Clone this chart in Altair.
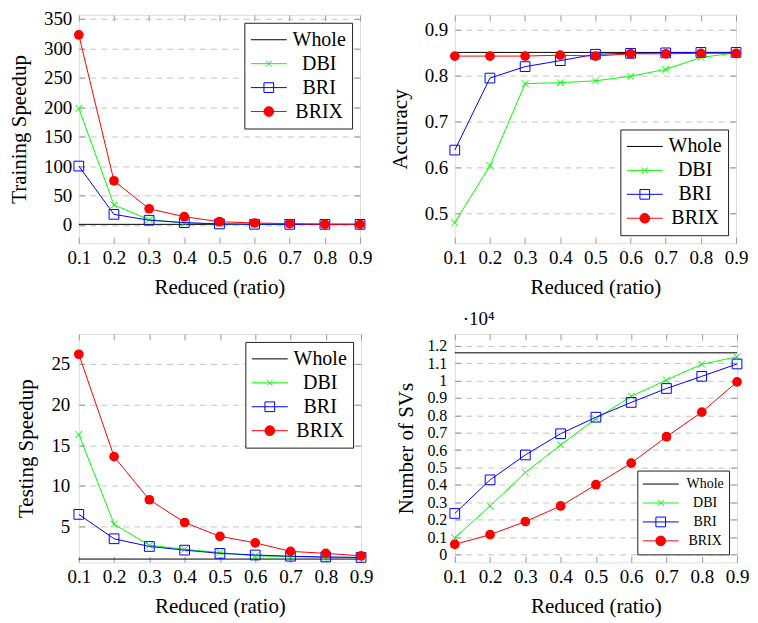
import altair as alt
import pandas as pd

FONT = "Liberation Serif, DejaVu Serif, serif"

# ---------------- data ----------------
ratios = [0.1, 0.2, 0.3, 0.4, 0.5, 0.6, 0.7, 0.8, 0.9]
series_names = ["Whole", "DBI", "BRI", "BRIX"]
series_colors = ["#000000", "#00ff00", "#0000ff", "#ff0000"]

# Training speedup
train_whole = 1.0
train_dbi = [198, 34, 9, 3.3, 1.7, 1.2, 1.1, 1.0, 1.0]
train_bri = [100, 18, 8, 4, 1.7, 1.1, 1.0, 1.0, 1.0]
train_brix = [323, 75, 27.5, 14, 5.5, 3.3, 2.2, 1.2, 1.0]

# Accuracy
acc_whole = 0.851
acc_dbi = [0.480, 0.604, 0.783, 0.785, 0.789, 0.799, 0.814, 0.840, 0.850]
acc_bri = [0.638, 0.795, 0.820, 0.833, 0.847, 0.849, 0.850, 0.851, 0.851]
acc_brix = [0.843, 0.843, 0.843, 0.845, 0.843, 0.848, 0.848, 0.849, 0.849]

# Testing speedup
test_whole = 1.0
test_dbi = [16.35, 5.3, 2.7, 2.2, 1.8, 1.4, 1.3, 1.2, 1.2]
test_bri = [6.5, 3.5, 2.55, 2.1, 1.7, 1.5, 1.35, 1.26, 1.2]
test_brix = [26.2, 13.6, 8.3, 5.5, 3.8, 3.0, 1.95, 1.7, 1.4]

# Number of support vectors
sv_whole = 11590
sv_dbi = [960, 2790, 4710, 6300, 7800, 9090, 10030, 10930, 11360]
sv_bri = [2360, 4290, 5720, 6940, 7890, 8740, 9540, 10240, 10950]
sv_brix = [580, 1140, 1890, 2790, 4010, 5250, 6770, 8180, 9920]
sv_unit = 10000

# axis ticks / titles
x_title = "Reduced (ratio)"
train_ticks = [0, 50, 100, 150, 200, 250, 300, 350]
acc_ticks = [0.5, 0.6, 0.7, 0.8, 0.9]
test_ticks = [5, 10, 15, 20, 25]
sv_ticks = [0, 0.1, 0.2, 0.3, 0.4, 0.5, 0.6, 0.7, 0.8, 0.9, 1.0, 1.1, 1.2]


def long_df(dbi, bri, brix, unit=1.0):
    rows = []
    for name, vals in (("DBI", dbi), ("BRI", bri), ("BRIX", brix)):
        for r, v in zip(ratios, vals):
            rows.append({"ratio": r, "value": v / unit, "series": name})
    return pd.DataFrame(rows)


# legend symbols: line + marker (custom paths)
legend_shapes = [
    "M-1,0L1,0",
    "M-1,0L1,0M-0.16,-0.16L0.16,0.16M-0.16,0.16L0.16,-0.16",
    "M-1,0L1,0M-0.27,-0.27L0.27,-0.27L0.27,0.27L-0.27,0.27Z",
    "M-1,0L1,0M-0.27,0A0.27,0.27,0,1,1,0.27,0A0.27,0.27,0,1,1,-0.27,0Z",
]
legend_fills = ["transparent", "transparent", "transparent", "#ff0000"]

CROSS = "M-1,-1L1,1M-1,1L1,-1"
INWARD = {"expr": "-6"}
TICK_COLOR = "#999999"


def make_legend(orient, font_size, clip_h, pad, label_offset):
    return alt.Legend(
        title=None, orient=orient, offset=8, padding=pad,
        strokeColor="#222222", fillColor="white", cornerRadius=0,
        symbolSize=1296, symbolStrokeWidth=1, symbolOpacity=1,
        clipHeight=clip_h, rowPadding=2,
        labelFont=FONT, labelFontSize=font_size, labelColor="black",
        labelAlign="center", labelOffset=label_offset,
    )


def panel(df, whole, y_title, y_domain, y_ticks, y_format, legend, w, h,
          title_pad, label_pad, y_label_size=19, title=None):
    xs = alt.Scale(domain=[0.1, 0.9], nice=False, zero=False)
    ys = alt.Scale(domain=y_domain, nice=False, zero=False)

    left_axis = alt.Axis(
        orient="left", values=y_ticks, format=y_format, grid=True,
        gridDash=[6, 5], gridColor="#c4c4c4", gridWidth=1, domain=False,
        tickSize=INWARD, tickColor=TICK_COLOR, labelPadding=label_pad,
        labelFont=FONT, labelFontSize=y_label_size, labelColor="black",
        labelOverlap=False, labelFlush=False,
        title=y_title, titleFont=FONT, titleFontSize=21,
        titleFontWeight="normal", titleColor="black", titlePadding=title_pad,
    )
    right_axis = alt.Axis(
        orient="right", values=y_ticks, labels=False, domain=False,
        grid=False, tickSize=INWARD, tickColor=TICK_COLOR, title=None,
    )
    bottom_axis = alt.Axis(
        orient="bottom", values=ratios, format=".1f", grid=False, domain=False,
        tickSize=INWARD, tickColor=TICK_COLOR, labelPadding=11,
        labelFont=FONT, labelFontSize=19, labelColor="black",
        labelFlush=False, labelOverlap=False,
        title=x_title, titleFont=FONT, titleFontSize=21,
        titleFontWeight="normal", titleColor="black", titlePadding=9,
    )
    top_axis = alt.Axis(
        orient="top", values=ratios, labels=False, domain=False, grid=False,
        tickSize=INWARD, tickColor=TICK_COLOR, title=None,
    )

    rule = alt.Chart(pd.DataFrame({"value": [whole]})).mark_rule(
        color="black", strokeWidth=1
    ).encode(y=alt.Y("value:Q", scale=ys, axis=left_axis))

    layers = [rule]
    styles = {
        "DBI": dict(shape=CROSS, size=45, filled=False, strokeWidth=1),
        "BRI": dict(shape="square", size=95, filled=False, strokeWidth=1),
        "BRIX": dict(shape="circle", size=95, filled=True),
    }
    for i, name in enumerate(["DBI", "BRI", "BRIX"]):
        color = series_colors[series_names.index(name)]
        sub = alt.Chart(df).transform_filter(f"datum.series === '{name}'")
        line = sub.mark_line(strokeWidth=1, color=color).encode(
            x=alt.X("ratio:Q", scale=xs, axis=bottom_axis if i == 0 else None),
            y=alt.Y("value:Q", scale=ys, axis=None),
        )
        pts = sub.mark_point(color=color, opacity=1, **styles[name]).encode(
            x=alt.X("ratio:Q", scale=xs, axis=top_axis if i == 0 else None),
            y=alt.Y("value:Q", scale=ys, axis=right_axis if i == 0 else None),
        )
        layers += [line, pts]

    # invisible layer that only carries the combined legend
    legend_layer = alt.Chart(df).mark_point(size=0, filled=True).encode(
        x=alt.X("ratio:Q", scale=xs, axis=None),
        y=alt.Y("value:Q", scale=ys, axis=None),
        stroke=alt.Stroke("series:N",
                          scale=alt.Scale(domain=series_names, range=series_colors),
                          legend=legend),
        fill=alt.Fill("series:N",
                      scale=alt.Scale(domain=series_names, range=legend_fills),
                      legend=legend),
        shape=alt.Shape("series:N",
                        scale=alt.Scale(domain=series_names, range=legend_shapes),
                        legend=legend),
    )
    layers.append(legend_layer)

    props = dict(width=w, height=h)
    if title is not None:
        props["title"] = title
    return alt.layer(*layers).resolve_axis(
        x="independent", y="independent"
    ).properties(**props)


W1 = 282
W2 = 283
H1 = 229
H2 = 229

p1 = panel(long_df(train_dbi, train_bri, train_brix), train_whole,
           "Training Speedup", [-31, 357], train_ticks, "d",
           make_legend("top-right", 20, 22, 6, 32), W1, H1, 14, 13)
p2 = panel(long_df(acc_dbi, acc_bri, acc_brix), acc_whole,
           "Accuracy", [0.435, 0.933], acc_ticks, ".1f",
           make_legend("bottom-right", 20, 22, 6, 32), W1, H1, 14, 13)
p3 = panel(long_df(test_dbi, test_bri, test_brix), test_whole,
           "Testing Speedup", [0.6, 28.7], test_ticks, "d",
           make_legend("top-right", 20, 22, 6, 32), W2, H2, 14, 15)
p4 = panel(long_df(sv_dbi, sv_bri, sv_brix, sv_unit), sv_whole / sv_unit,
           "Number of SVs", [-0.045, 1.2675], sv_ticks, ".1~f",
           make_legend("bottom-right", 14, 17, 5, 26), W2, H2, 10, 14,
           y_label_size=16,
           title=alt.TitleParams("·10⁴", anchor="start", frame="group", dx=8,
                                 offset=4, font=FONT, fontSize=19,
                                 fontWeight="normal", color="black"))

row1 = alt.hconcat(p1, p2, spacing=95, bounds="flush")
row2 = alt.hconcat(p3, p4, spacing=94, bounds="flush")

chart = alt.vconcat(row1, row2, spacing=12).properties(
    padding={"left": 0, "top": 0, "right": 0, "bottom": 0}
).configure_view(stroke="#444444", strokeWidth=1).configure(font=FONT)

chart.save("out.html", embed_options={"renderer": "svg", "actions": False})
